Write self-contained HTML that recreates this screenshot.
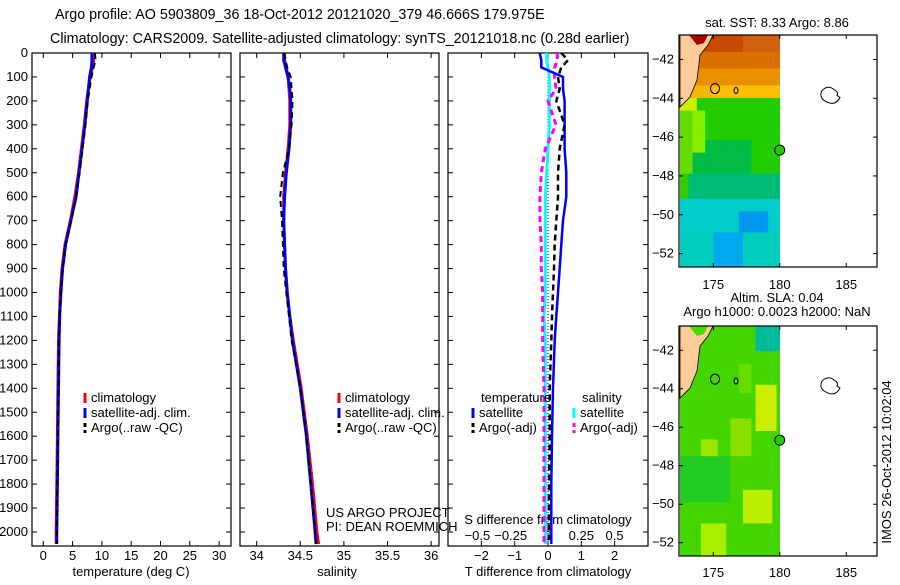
<!DOCTYPE html>
<html><head><meta charset="utf-8"><style>
body{margin:0;background:#fff}
svg text{font-family:"Liberation Sans",sans-serif;font-size:13px;fill:#000}
</style></head><body>
<svg id="fig" width="900" height="580" viewBox="0 0 900 580" xmlns="http://www.w3.org/2000/svg">
<rect width="900" height="580" fill="#fff"/>
<defs><clipPath id="c1"><rect x="680" y="35" width="100" height="232"/></clipPath><clipPath id="c2"><rect x="680" y="326" width="100" height="230"/></clipPath></defs>
<text x="55" y="19" style="font-size:14.3px">Argo profile: AO 5903809_36 18-Oct-2012 20121020_379 46.666S 179.975E</text>
<text x="50" y="43" style="font-size:14.3px">Climatology: CARS2009. Satellite-adjusted climatology: synTS_20121018.nc (0.28d earlier)</text>
<g id="g1"></g><g id="g2"></g><g id="g3"></g><g id="maps"></g>
</svg>
<script>
// ---- data ----
const depths = [0,30,60,100,150,200,300,400,500,600,700,800,900,1000,1100,1200,1400,1600,1800,2000,2050];
const tempClim = [8.6,8.6,8.4,8.0,7.7,7.4,7.0,6.5,6.0,5.4,4.6,3.7,3.2,2.9,2.75,2.6,2.5,2.4,2.3,2.2,2.2];
const tempSat  = [8.3,8.3,8.2,7.9,7.7,7.5,7.1,6.6,6.1,5.6,4.7,3.8,3.3,3.0,2.8,2.7,2.6,2.5,2.4,2.3,2.3];
const tempArgo = [8.8,8.9,8.6,8.2,7.9,7.6,7.2,6.7,6.2,5.6,4.8,3.8,3.3,3.0,2.8,2.7,2.6,2.5,2.4,2.3,2.3];
const salClim = [34.31,34.32,34.34,34.36,34.37,34.38,34.38,34.36,34.33,34.31,34.31,34.32,34.33,34.35,34.38,34.42,34.51,34.58,34.64,34.69,34.71];
const salSat  = [34.31,34.31,34.33,34.36,34.38,34.39,34.39,34.37,34.34,34.32,34.31,34.32,34.33,34.35,34.38,34.41,34.50,34.57,34.62,34.67,34.68];
const salArgo = [34.32,34.33,34.35,34.39,34.40,34.41,34.40,34.37,34.30,34.27,34.29,34.30,34.31,34.34,34.37,34.40,34.50,34.57,34.62,34.67,34.68];
const dTsat  = [-0.25,-0.2,-0.2,0.45,0.45,0.5,0.5,0.5,0.55,0.55,0.45,0.4,0.35,0.3,0.25,0.2,0.15,0.12,0.1,0.1,0.1];
const dTargo = [0.4,0.6,0.4,0.3,0.35,0.25,0.5,0.35,0.3,0.3,0.25,0.2,0.18,0.15,0.12,0.1,0.05,0.05,0.03,0.02,0.02];
const dSsat  = [-0.01,-0.01,0.0,0.01,0.01,0.01,0.01,0.0,-0.01,-0.02,-0.02,-0.02,-0.02,-0.02,-0.03,-0.02,-0.02,-0.02,-0.02,-0.02,-0.02];
const dSargo = [0.07,0.07,0.05,0.05,0.06,0.0,0.06,-0.02,-0.05,-0.06,-0.06,-0.05,-0.05,-0.04,-0.04,-0.04,-0.03,-0.03,-0.03,-0.03,-0.03];
const depthTicks = [0,100,200,300,400,500,600,700,800,900,1000,1100,1200,1300,1400,1500,1600,1700,1800,1900,2000];
const tempTicks = [0,5,10,15,20,25,30];
const salTicks = [34,34.5,35,35.5,36];
const dTTicks = [-2,-1,0,1,2];
const dSTicks = [-0.5,-0.25,0,0.25,0.5];
const latTicks = [-42,-44,-46,-48,-50,-52];
const lonTicks = [175,180,185];

const NS="http://www.w3.org/2000/svg";
function el(tag,attrs,parent,txt){const e=document.createElementNS(NS,tag);for(const k in attrs)e.setAttribute(k,attrs[k]);if(txt!==undefined)e.textContent=txt;parent.appendChild(e);return e;}
const yD = d => 53 + d*0.2395;
const PT=53, PB=546;

function frame(g,x0,x1,name){
  const r=el('rect',{x:x0,y:PT,width:x1-x0,height:PB-PT,fill:'none',stroke:'#000','stroke-width':1.2},g);
  
  
  depthTicks.forEach(d=>{
    el('line',{x1:x0,x2:x0+5,y1:yD(d),y2:yD(d),stroke:'#000'},g);
    el('line',{x1:x1-5,x2:x1,y1:yD(d),y2:yD(d),stroke:'#000'},g);
  });
}
function line(g,xs,xf,color,dash,w,name){
  const pts=depths.map((d,i)=>xf(xs[i]).toFixed(1)+','+yD(d).toFixed(1)).join(' ');
  const p=el('polyline',{points:pts,fill:'none',stroke:color,'stroke-width':w,'stroke-dasharray':dash||'none'},g);
  
  
}
function legend(g,x,y,items){
  items.forEach((it,i)=>{
    el('line',{x1:x,x2:x,y1:y+i*15-9,y2:y+i*15+1,stroke:it[0],'stroke-width':3,'stroke-dasharray':it[2]||'none'},g);
    const t=el('text',{x:x+6,y:y+i*15},g,it[1]);
    
    
  });
}
// Panel 1
const g1=document.getElementById('g1');
const xT=t=>43.3+t*5.86;
frame(g1,32,231,'temperature-panel');
depthTicks.forEach(d=>{const t=el('text',{x:28,y:yD(d)+4,'text-anchor':'end'},g1,String(d));});
tempTicks.forEach(v=>{el('line',{x1:xT(v),x2:xT(v),y1:PB,y2:PB-5,stroke:'#000'},g1);el('line',{x1:xT(v),x2:xT(v),y1:PT,y2:PT+5,stroke:'#000'},g1);const t=el('text',{x:xT(v),y:560,'text-anchor':'middle'},g1,String(v));});
{const t=el('text',{x:131,y:576,'text-anchor':'middle'},g1,'temperature (deg C)');}
line(g1,tempClim,xT,'#f00',null,3,'temp-climatology-line');
line(g1,tempSat,xT,'#00f',null,3,'temp-satellite-line');
line(g1,tempArgo,xT,'#000','6,4',2,'temp-argo-line');
legend(g1,85,402,[['#f00','climatology'],['#00f','satellite-adj. clim.'],['#000','Argo(..raw -QC)','4,3']]);
// Panel 2
const g2=document.getElementById('g2');
const xS=s=>256.7+(s-34)*87.2;
frame(g2,240,439,'salinity-panel');
salTicks.forEach(v=>{el('line',{x1:xS(v),x2:xS(v),y1:PB,y2:PB-5,stroke:'#000'},g2);el('line',{x1:xS(v),x2:xS(v),y1:PT,y2:PT+5,stroke:'#000'},g2);const t=el('text',{x:xS(v),y:560,'text-anchor':'middle'},g2,String(v));});
{const t=el('text',{x:337,y:576,'text-anchor':'middle'},g2,'salinity');}
line(g2,salClim,xS,'#f00',null,3,'sal-climatology-line');
line(g2,salSat,xS,'#00f',null,3,'sal-satellite-line');
line(g2,salArgo,xS,'#000','6,4',2,'sal-argo-line');
legend(g2,339,402,[['#f00','climatology'],['#00f','satellite-adj. clim.'],['#000','Argo(..raw -QC)','4,3']]);
{const t=el('text',{x:326,y:517},g2,'US ARGO PROJECT');
const t2=el('text',{x:326,y:531},g2,'PI: DEAN ROEMMICH');}
// Panel 3
const g3=document.getElementById('g3');
const xDT=v=>548+v*33.3, xDS=v=>548+v*133.2;
frame(g3,448,648,'difference-panel');
el('line',{x1:548,x2:548,y1:PT,y2:PB,stroke:'#000','stroke-dasharray':'1,2'},g3);
dTTicks.forEach(v=>{el('line',{x1:xDT(v),x2:xDT(v),y1:PB,y2:PB-5,stroke:'#000'},g3);el('line',{x1:xDT(v),x2:xDT(v),y1:PT,y2:PT+5,stroke:'#000'},g3);const t=el('text',{x:xDT(v),y:560,'text-anchor':'middle'},g3,String(v).replace('-','\u2212'));});
dSTicks.forEach(v=>{const t=el('text',{x:xDS(v)-(v<0?4:0),y:540,'text-anchor':'middle'},g3,String(v).replace(/^-/,'\u2212'));});
{const t=el('text',{x:548,y:524,'text-anchor':'middle'},g3,'S difference from climatology');
const t2=el('text',{x:548,y:576,'text-anchor':'middle'},g3,'T difference from climatology');}
line(g3,dSsat,xDS,'#0ff',null,3,'sdiff-satellite-line');
line(g3,dSargo,xDS,'#f0f','6,4',3,'sdiff-argo-line');
line(g3,dTsat,xDT,'#00f',null,2.5,'tdiff-satellite-line');
line(g3,dTargo,xDT,'#000','6,4',2.5,'tdiff-argo-line');
{const t=el('text',{x:481,y:402},g3,'temperature');
const t2=el('text',{x:582,y:402},g3,'salinity');}
legend(g3,473,417,[['#00f','satellite'],['#000','Argo(-adj)','4,3']]);
legend(g3,574,417,[['#0ff','satellite'],['#f0f','Argo(-adj)','4,3']]);
// Maps
const gm=document.getElementById('maps');
function map(top,bottom,yLab,colorAt,name,titles,clip){
  const lx=lon=>680+(lon-172.5)*13.3;
  const ly=lat=>top+(-40.74-lat)*((bottom-top)/11.95);
  const g=el('g',{},gm);
  const gc=el('g',{'clip-path':'url(#'+clip+')'},g);
  const cs=4.2;
  for(let x=680;x<780;x+=cs){for(let y=top;y<bottom;y+=cs){
    const c=colorAt((x-680)/100,(y-top)/(bottom-top));
    el('rect',{x:x,y:y,width:cs+0.3,height:cs+0.3,fill:c},gc);}}
  el('polygon',{points:`680,${top} 713,${top} 708,${top+10} 700,${top+20} 697,${top+45} 690,${top+62} 680,${top+72}`,fill:'#ffcc99',stroke:'#000','stroke-width':0.8},g);
  el('polygon',{points:`689,${top} 708,${top} 704,${top+8} 697,${top+10}`,fill:name==='sst-map'?'#aa0000':'#44dd00'},g);
  el('ellipse',{cx:715,cy:ly(-43.5),rx:4.5,ry:5,fill:'none',stroke:'#000'},g);
  el('ellipse',{cx:736,cy:ly(-43.6),rx:2,ry:3,fill:'none',stroke:'#000'},g);
  el('path',{d:`M822,${ly(-43.6)} q6,-6 12,-1 q5,3 3,6 l3,2 q-4,8 -12,5 q-10,-4 -6,-12z`,fill:'none',stroke:'#000'},g);
  el('rect',{x:679,y:top,width:198,height:bottom-top,fill:'none',stroke:'#000','stroke-width':1.2},g);
  const c=el('circle',{cx:lx(180),cy:ly(-46.67),r:5,fill:'#22cc00',stroke:'#000'},g);
  
  latTicks.forEach(v=>{el('line',{x1:679,x2:683,y1:ly(v),y2:ly(v),stroke:'#000'},g);el('line',{x1:873,x2:877,y1:ly(v),y2:ly(v),stroke:'#000'},g);const t=el('text',{x:674,y:ly(v)+4,'text-anchor':'end'},g,String(v).replace('-','\u2212'));});
  lonTicks.forEach(v=>{el('line',{x1:lx(v),x2:lx(v),y1:bottom,y2:bottom-4,stroke:'#000'},g);el('line',{x1:lx(v),x2:lx(v),y1:top,y2:top+4,stroke:'#000'},g);const t=el('text',{x:lx(v),y:yLab,'text-anchor':'middle'},g,String(v));});
  titles.forEach(tt=>{const t=el('text',{x:777,y:tt[1],'text-anchor':'middle'},g,tt[0]);});
}
const sstColor=(fx,fy)=>{
  if(fy<0.06) return fx>0.6?'#d06010':'#c84a00';
  if(fy<0.13) return '#d87000';
  if(fy<0.2) return '#e89000';
  if(fy<0.27) return (fx<0.3?'#f0b800':'#f8c000');
  if(fy<0.32) return fx<0.15?'#ccee00':'#22cc00';
  if(fy<0.58){ if(fx<0.1) return '#66dd00'; if(fx<0.25&&fy<0.5) return '#88ee00'; return (fy>0.45&&fx<0.7)?'#00bb44':'#22cc00';}
  if(fy<0.7) return fx<0.08?'#33cc00':'#00bb77';
  if(fy<0.85) return (fx>0.55&&fx<0.85&&fy>0.76)?'#0099ee':'#00cccc';
  return (fx>0.3&&fx<0.6)?'#00aaee':'#00ccbb';
};
const slaColor=(fx,fy)=>{
  if(fy<0.1&&fx>0.75) return '#00bb99';
  if(fx>0.75&&fx<0.95&&fy>0.25&&fy<0.45) return '#ccee00';
  if(fx>0.6&&fx<0.9&&fy>0.7&&fy<0.85) return '#bbee00';
  if(fx>0.2&&fx<0.45&&fy>0.85) return '#aaee00';
  if(fx>0.5&&fx<0.7&&fy>0.4&&fy<0.55) return '#88e000';
  if(fx>0.2&&fx<0.35&&fy>0.48&&fy<0.56) return '#99e600';
  if(fy>0.15&&fy<0.28&&fx>0.55&&fx<0.7) return '#66dd00';
  return (fx<0.5&&fy>0.55&&fy<0.75)?'#22cc22':'#44d400';
};
map(35,267,289,sstColor,'sst-map',[['sat. SST: 8.33 Argo: 8.86',27]],'c1');
map(326,556,577,slaColor,'sla-map',[['Altim. SLA: 0.04',302],['Argo h1000: 0.0023 h2000: NaN',316]],'c2');
{const t=el('text',{x:0,y:0,'text-anchor':'middle',transform:'translate(891,462) rotate(-90)'},gm,'IMOS 26-Oct-2012 10:02:04');}
</script>
</body></html>
